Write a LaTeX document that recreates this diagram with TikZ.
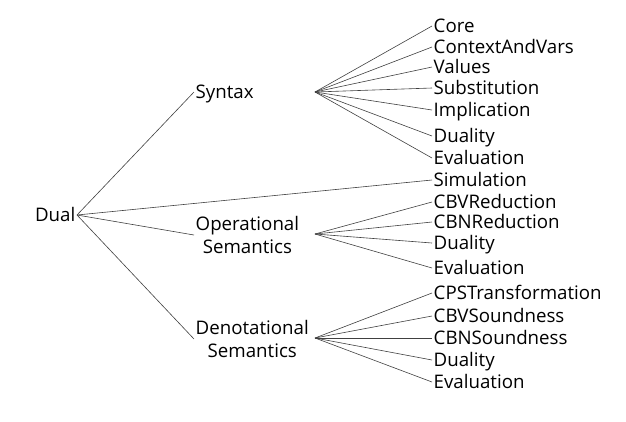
\documentclass[tikz,border=0pt]{standalone}
\usepackage{fontspec}
\setmainfont{Open Sans}
\begin{document}
\begin{tikzpicture}[x=1bp,y=-1bp,
  lbl/.style={font=\fontsize{18.7bp}{22.5bp}\selectfont, inner sep=1.5bp, text height=13.4bp, text depth=0bp, anchor=west},
  two/.style={font=\fontsize{18.7bp}{22.5bp}\selectfont, inner sep=1.5bp, align=center, anchor=west},
  edge/.style={draw=black!75, line width=0.6bp}]
\useasboundingbox (0,0) rectangle (626,421);
% root
\node[lbl, anchor=east] (dual) at (77,215) {Dual};
% level 1
\node[lbl] (syn) at (194,92) {Syntax};
\node[two] (op) at (194,235) {Operational\\Semantics};
\node[two] (den) at (194,339) {Denotational\\Semantics};
% fan points
\coordinate (fs) at (315,92);
\coordinate (fo) at (315,234);
\coordinate (fd) at (315,338);
% leaves
\node[lbl] (core) at (432,26) {Core};
\node[lbl] (ctx) at (432,47) {ContextAndVars};
\node[lbl] (val) at (432,67) {Values};
\node[lbl] (sub) at (432,88) {Substitution};
\node[lbl] (imp) at (432,110) {Implication};
\node[lbl] (sdu) at (432,136) {Duality};
\node[lbl] (sev) at (432,158) {Evaluation};
\node[lbl] (sim) at (432,180) {Simulation};
\node[lbl] (cbvr) at (432,202) {CBVReduction};
\node[lbl] (cbnr) at (432,222) {CBNReduction};
\node[lbl] (odu) at (432,243) {Duality};
\node[lbl] (oev) at (432,268) {Evaluation};
\node[lbl] (cps) at (432,293) {CPSTransformation};
\node[lbl] (cbvs) at (432,316) {CBVSoundness};
\node[lbl] (cbns) at (432,338) {CBNSoundness};
\node[lbl] (ddu) at (432,360) {Duality};
\node[lbl] (dev) at (432,382) {Evaluation};
% edges
\foreach \t in {syn,op,den,sim} \draw[edge] (dual.east) -- (\t.west);
\foreach \t in {core,ctx,val,sub,imp,sdu,sev} \draw[edge] (fs) -- (\t.west);
\foreach \t in {cbvr,cbnr,odu,oev} \draw[edge] (fo) -- (\t.west);
\foreach \t in {cps,cbvs,cbns,ddu,dev} \draw[edge] (fd) -- (\t.west);
\end{tikzpicture}
\end{document}
